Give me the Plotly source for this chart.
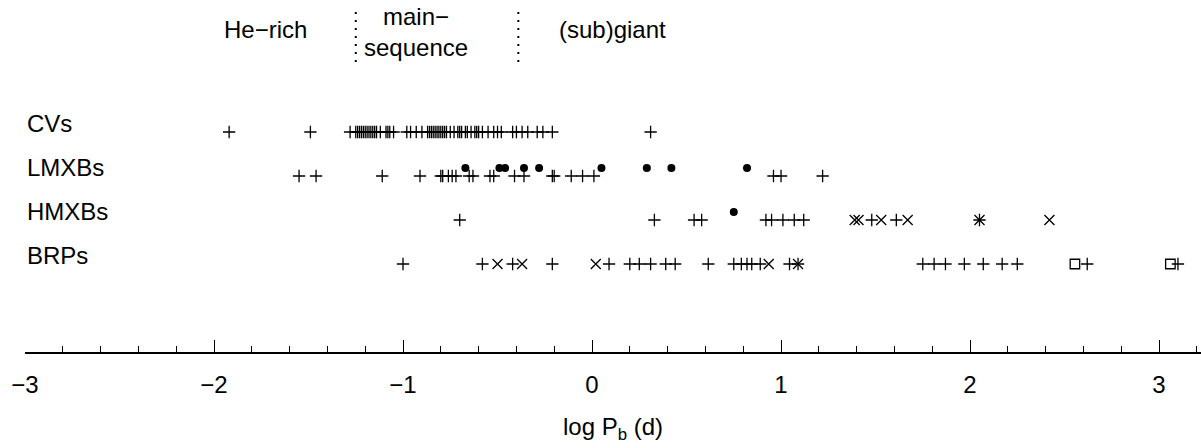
import plotly.graph_objects as go

# ---- data (log orbital period, days) ----
categories = ["CVs", "LMXBs", "HMXBs", "BRPs"]
row_pos = [4, 3, 2, 1]

cv_plus = [-1.92, -1.49, -1.28, -1.25, -1.24, -1.23, -1.22, -1.21, -1.20, -1.19,
           -1.18, -1.17, -1.16, -1.15, -1.14, -1.12, -1.09, -1.08, -1.07, -1.05,
           -0.98, -0.96, -0.93, -0.90, -0.87, -0.86, -0.85, -0.84, -0.83, -0.82,
           -0.81, -0.80, -0.79, -0.78, -0.77, -0.75, -0.73, -0.71, -0.70, -0.69,
           -0.67, -0.66, -0.64, -0.62, -0.61, -0.60, -0.58, -0.55, -0.52, -0.50,
           -0.48, -0.42, -0.40, -0.37, -0.34, -0.29, -0.26, -0.21, 0.31]

lmxb_plus = [-1.55, -1.46, -1.11, -0.91, -0.80, -0.79, -0.76, -0.74, -0.72, -0.65,
             -0.63, -0.54, -0.52, -0.41, -0.36, -0.21, -0.20, -0.11, -0.05, 0.01,
             0.96, 1.00, 1.22]
lmxb_dot = [-0.67, -0.49, -0.46, -0.36, -0.28, 0.05, 0.29, 0.42, 0.82]

hmxb_plus = [-0.70, 0.33, 0.54, 0.58, 0.92, 0.95, 1.01, 1.07, 1.12, 1.48, 1.61]
hmxb_x = [1.39, 1.41, 1.53, 1.67, 2.42]
hmxb_dot = [0.75]
hmxb_ast = [2.05]

brp_plus = [-1.00, -0.58, -0.42, -0.21, 0.09, 0.20, 0.25, 0.31, 0.39, 0.44,
            0.615, 0.75, 0.79, 0.82, 0.845, 0.89, 1.045, 1.75, 1.81, 1.87,
            1.97, 2.07, 2.17, 2.25, 2.62, 3.10]
brp_x = [-0.50, -0.37, 0.02, 0.935]
brp_ast = [1.09]
brp_sq = [2.555, 3.06]

region_labels = ["He\u2212rich", "main\u2212<br>sequence", "(sub)giant"]
region_bounds = [-1.25, -0.39]

tick_vals = [-3, -2, -1, 0, 1, 2, 3]
x_range = [-3.0, 3.222]
y_range = [-1, 7]

FONT = "Liberation Sans, Arial, Helvetica, sans-serif"
dot_offset = 0.18

fig = go.Figure()


def add_points(xs, row, symbol, size, offset=0.0, lw=1.3):
    fig.add_trace(go.Scatter(
        x=xs, y=[row + offset] * len(xs), mode="markers",
        marker=dict(symbol=symbol, size=size, color="black",
                    line=dict(color="black", width=lw)),
        showlegend=False, hoverinfo="x", cliponaxis=False))


PLUS, CROSS, DOT, SQ = "cross-thin-open", "x-thin-open", "circle", "square-open"

add_points(cv_plus, row_pos[0], PLUS, 8.8)

add_points(lmxb_plus, row_pos[1], PLUS, 8.8)
add_points(lmxb_dot, row_pos[1], DOT, 8, offset=dot_offset, lw=0)

add_points(hmxb_plus, row_pos[2], PLUS, 8.8)
add_points(hmxb_x, row_pos[2], CROSS, 10)
add_points(hmxb_dot, row_pos[2], DOT, 8, offset=dot_offset, lw=0)
add_points(hmxb_ast, row_pos[2], PLUS, 8.8)
add_points(hmxb_ast, row_pos[2], CROSS, 10)

add_points(brp_plus, row_pos[3], PLUS, 8.8)
add_points(brp_x, row_pos[3], CROSS, 10)
add_points(brp_ast, row_pos[3], PLUS, 8.8)
add_points(brp_ast, row_pos[3], CROSS, 10)
add_points(brp_sq, row_pos[3], SQ, 9.5)

annotations = []
for name, r in zip(categories, row_pos):
    annotations.append(dict(x=-3.0, y=r + 0.2, xref="x", yref="y", text=name,
                            showarrow=False, xanchor="left", yanchor="middle",
                            font=dict(family=FONT, size=24, color="black")))

# region labels above the rows
annotations.append(dict(x=-1.73, y=6.32, xref="x", yref="y", text=region_labels[0],
                        showarrow=False, xanchor="center", yanchor="middle",
                        font=dict(family=FONT, size=24, color="black")))
annotations.append(dict(x=-0.93, y=6.28, xref="x", yref="y", text=region_labels[1],
                        showarrow=False, xanchor="center", yanchor="middle",
                        font=dict(family=FONT, size=24, color="black")))
annotations.append(dict(x=0.11, y=6.32, xref="x", yref="y", text=region_labels[2],
                        showarrow=False, xanchor="center", yanchor="middle",
                        font=dict(family=FONT, size=24, color="black")))

annotations.append(dict(x=0.5, y=-0.216, xref="paper", yref="paper",
                        text="log P<sub>b</sub> (d)", showarrow=False,
                        xanchor="center", yanchor="middle",
                        font=dict(family=FONT, size=24, color="black")))

shapes = []
for b in region_bounds:
    shapes.append(dict(type="line", x0=b, x1=b, y0=5.59, y1=6.73, xref="x", yref="y",
                       line=dict(color="black", width=2, dash="2px,6px")))

fig.update_layout(
    width=1201, height=448,
    margin=dict(l=25, r=0, t=0, b=96, autoexpand=False),
    paper_bgcolor="white", plot_bgcolor="white",
    annotations=annotations, shapes=shapes,
    xaxis=dict(range=x_range, showgrid=False, zeroline=False, automargin=False,
               showline=True, linecolor="black", linewidth=1.5,
               ticks="inside", ticklen=12, tickwidth=1.3, tickcolor="black",
               tickvals=tick_vals,
               minor=dict(ticks="inside", ticklen=6, tickwidth=1.3, tickcolor="black",
                          dtick=0.2, tick0=-3, showgrid=False),
               tickfont=dict(family=FONT, size=24, color="black"),
               ticklabelstandoff=10),
    yaxis=dict(range=y_range, visible=False, showgrid=False, zeroline=False),
    font=dict(family=FONT, color="black"),
)

fig.write_html("out.html", config={"displayModeBar": False},
               post_script="document.body.style.margin='0';")
